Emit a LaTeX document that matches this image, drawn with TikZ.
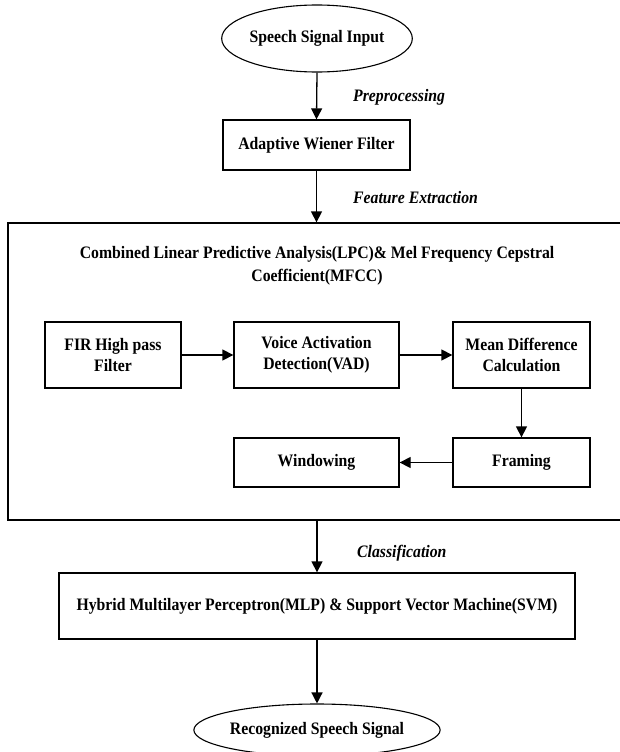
\documentclass[tikz,border=0pt]{standalone}
\usepackage{fontspec}
\setmainfont{Liberation Serif}[FakeStretch=0.9]
\usetikzlibrary{shapes.geometric,arrows.meta}
\begin{document}
\begin{tikzpicture}[x=1pt,y=-1pt,
  every node/.style={font=\fontsize{17.5}{21}\selectfont\bfseries, inner sep=0pt, align=center},
  blk/.style={draw, line width=1.3pt, rectangle},
  oval/.style={draw, line width=1.1pt, ellipse},
  lbl/.style={anchor=west, font=\fontsize{17.5}{21}\selectfont\bfseries\itshape},
  arr/.style={line width=1.3pt, -{Triangle[length=11pt,width=11pt]}}
]
\useasboundingbox (0,0) rectangle (619,752);
\node[oval, minimum width=188pt, minimum height=67pt] (in) at (317,38.5) {Speech Signal Input};
\node[blk, minimum width=187pt, minimum height=50pt] (awf) at (316.5,145) {Adaptive Wiener Filter};
\node[blk, minimum width=614pt, minimum height=297pt] (fe) at (315,371.5) {};
\node[font=\fontsize{17.5}{23}\selectfont\bfseries] (title) at (317,266) {Combined Linear Predictive Analysis(LPC)\& Mel Frequency Cepstral\\Coefficient(MFCC)};
\node[blk, minimum width=136pt, minimum height=66pt] (fir) at (113,355) {FIR High pass\\Filter};
\node[blk, minimum width=165pt, minimum height=66pt] (vad) at (316.5,355) {Voice Activation\\Detection(VAD)};
\node[blk, minimum width=137pt, minimum height=66pt] (md) at (521.5,355) {Mean Difference\\Calculation};
\node[blk, minimum width=165pt, minimum height=49pt] (win) at (316.5,462.5) {Windowing};
\node[blk, minimum width=137pt, minimum height=49pt] (fr) at (521.5,462.5) {Framing};
\node[blk, minimum width=516pt, minimum height=66pt] (mlp) at (317,606) {Hybrid Multilayer Perceptron(MLP) \& Support Vector Machine(SVM)};
\node[oval, minimum width=230pt, minimum height=52pt] (out) at (317,730) {Recognized Speech Signal};
\node[lbl] (l1) at (353,97) {Preprocessing};
\node[lbl] (l2) at (353,198) {Feature Extraction};
\node[lbl] (l3) at (357,553) {Classification};
\draw[arr] (in.south) -- (awf.north);
\draw[arr] (awf.south) -- (awf.south |- fe.north);
\draw[arr] (fir.east) -- (vad.west);
\draw[arr] (vad.east) -- (md.west);
\draw[arr] (md.south) -- (fr.north);
\draw[arr] (fr.west) -- (win.east);
\draw[arr] (fe.south -| mlp.north) -- (mlp.north);
\draw[arr] (mlp.south) -- (out.north);
\end{tikzpicture}
\end{document}
